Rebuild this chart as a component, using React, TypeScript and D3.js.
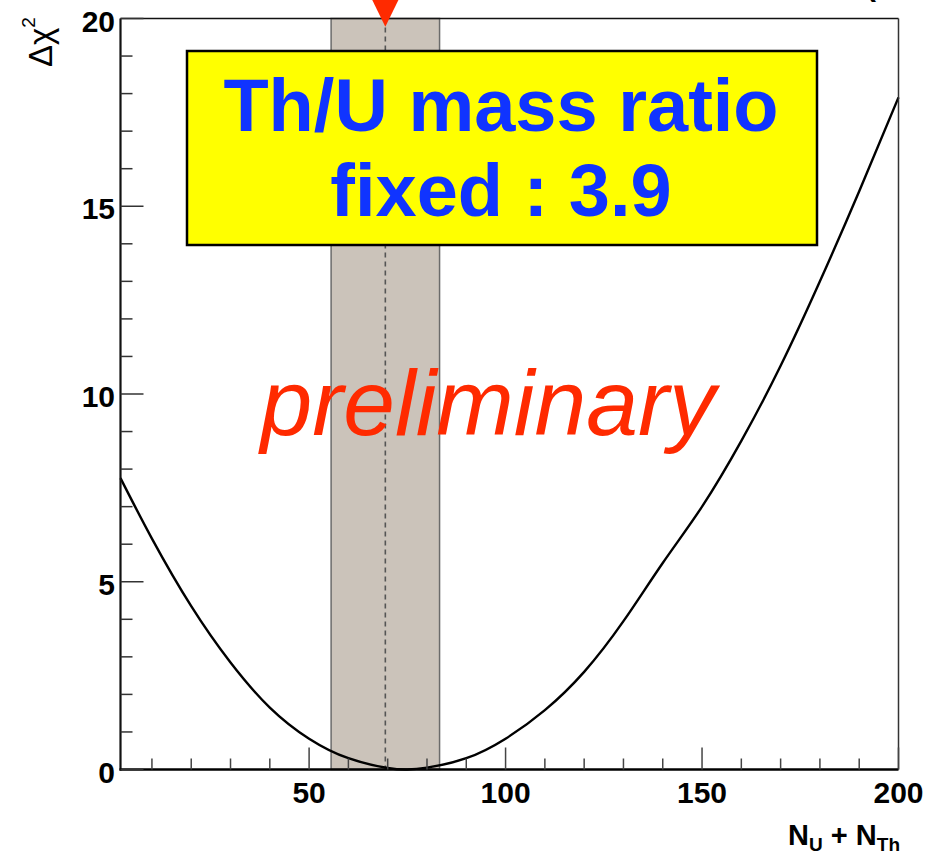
import React from "react";
import * as d3 from "d3";

// Δχ² scan versus total U + Th event count
const scanN: number[] = [2, 10, 20, 30, 40, 50, 60, 70, 75, 80, 90, 100, 110, 120, 130, 140, 150, 160, 170, 180, 190, 200];
const scanDChi2: number[] = [7.76, 6.15, 4.35, 2.85, 1.65, 0.82, 0.3, 0.04, 0.0, 0.05, 0.3, 0.82, 1.58, 2.6, 3.95, 5.5, 7.0, 8.75, 10.75, 13.0, 15.4, 17.9];

// best fit and 1σ range
const bestFit = 69.4;
const rangeLow = 55.6;
const rangeHigh = 83.2;

const xMajorTicks: number[] = [50, 100, 150, 200];
const xMinorTicks: number[] = [10, 20, 30, 40, 60, 70, 80, 90, 110, 120, 130, 140, 160, 170, 180, 190];
const yMajorTicks: number[] = [0, 5, 10, 15, 20];
const yMinorTicks: number[] = [1, 2, 3, 4, 6, 7, 8, 9, 11, 12, 13, 14, 16, 17, 18, 19];

const boxLines: string[] = ["Th/U mass ratio", "fixed : 3.9"];
const watermark = "preliminary";

const W = 944;
const H = 857;
const left = 120.5;
const right = 898.5;
const top = 18.5;
const bottom = 769.5;

const font = "'Liberation Sans', Arial, Helvetica, sans-serif";

export default function App() {
  const x = d3.scaleLinear().domain([2, 200]).range([left, right]);
  const y = d3.scaleLinear().domain([0, 20]).range([bottom, top]);

  const line = d3
    .line<number>()
    .x((_, i) => x(scanN[i]))
    .y((d) => y(d))
    .curve(d3.curveNatural);

  const bx = x(bestFit);
  const tri = d3.path();
  tri.moveTo(bx - 16, -6);
  tri.lineTo(bx + 16, -6);
  tri.lineTo(bx, y(20) + 8.3);
  tri.closePath();

  return (
    <svg
      width={W}
      height={H}
      style={{ position: "absolute", left: 0, top: 0, background: "#fff" }}
      fontFamily={font}
    >
      <rect x={0} y={0} width={W} height={H} fill="#fff" />

      {/* 1σ band */}
      <rect
        x={x(rangeLow)}
        y={y(20)}
        width={x(rangeHigh) - x(rangeLow)}
        height={y(0) - y(20)}
        fill="#cbc3ba"
        stroke="#6b6b6b"
        strokeWidth={1.5}
      />
      <line
        x1={bx}
        x2={bx}
        y1={y(20)}
        y2={y(0)}
        stroke="#555"
        strokeWidth={1.6}
        strokeDasharray="5,4"
      />

      {/* scan curve */}
      <path d={line(scanDChi2) ?? ""} fill="none" stroke="#000" strokeWidth={2.4} />

      {/* annotation box */}
      <rect x={187} y={51} width={630} height={194} fill="#ffff00" stroke="#000" strokeWidth={2.5} />
      <text x={501} y={131} textAnchor="middle" fontSize={74} fontWeight="bold" fill="#1034ff">
        {boxLines[0]}
      </text>
      <text x={501} y={216} textAnchor="middle" fontSize={74} fontWeight="bold" fill="#1034ff">
        {boxLines[1]}
      </text>

      <text x={488} y={435} textAnchor="middle" fontSize={93} fontStyle="italic" fill="#ff2a00">
        {watermark}
      </text>

      {/* frame */}
      <line x1={left} x2={right} y1={top} y2={top} stroke="#111" strokeWidth={1.5} />
      <line x1={right} x2={right} y1={top} y2={bottom} stroke="#333" strokeWidth={1.5} />
      <line x1={left} x2={left} y1={top} y2={bottom + 1} stroke="#111" strokeWidth={2.2} />
      <line x1={left - 1} x2={right} y1={bottom} y2={bottom} stroke="#000" strokeWidth={2.4} />

      {/* x ticks */}
      {xMajorTicks.map((t) => (
        <g key={"xM" + t}>
          <line x1={x(t)} x2={x(t)} y1={bottom} y2={bottom - 22} stroke="#444" strokeWidth={1.5} />
          <text x={x(t)} y={803} textAnchor="middle" fontSize={30} fontWeight="bold" fill="#000">
            {t}
          </text>
        </g>
      ))}
      {xMinorTicks.map((t) => (
        <line key={"xm" + t} x1={x(t)} x2={x(t)} y1={bottom} y2={bottom - 11} stroke="#444" strokeWidth={1.5} />
      ))}

      {/* y ticks */}
      {yMajorTicks.map((t) => (
        <g key={"yM" + t}>
          <line x1={left} x2={left + 23} y1={y(t)} y2={y(t)} stroke="#333" strokeWidth={1.5} />
          <text x={115} y={y(t) + 13} textAnchor="end" fontSize={30} fontWeight="bold" fill="#000">
            {t}
          </text>
        </g>
      ))}
      {yMinorTicks.map((t) => (
        <line key={"ym" + t} x1={left} x2={left + 12} y1={y(t)} y2={y(t)} stroke="#333" strokeWidth={1.5} />
      ))}

      {/* axis titles */}
      <text x={900} y={845} textAnchor="end" fontSize={29} fontWeight="bold" fill="#000">
        N
        <tspan fontSize={19} dy={6}>U</tspan>
        <tspan dy={-6}> + N</tspan>
        <tspan fontSize={19} dy={6}>Th</tspan>
      </text>
      <text transform="translate(52,67) rotate(-90)" fontSize={33} fill="#000">
        Δχ
        <tspan fontSize={19} dy={-17}>2</tspan>
      </text>

      {/* best-fit marker */}
      <path d={tri.toString()} fill="#ff2a00" />

      {/* clipped title fragment */}
      <text x={866} y={-4} fontSize={30} fontWeight="bold" fill="#000">
        (
      </text>
    </svg>
  );
}
